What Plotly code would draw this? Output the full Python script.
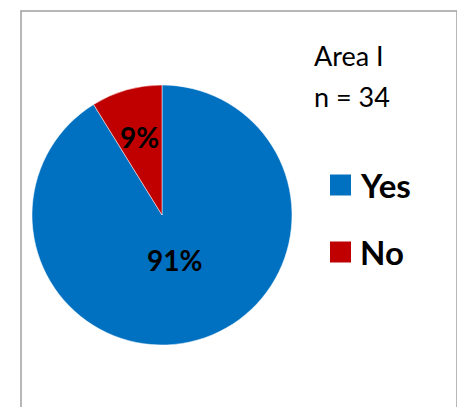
import math
import plotly.graph_objects as go

labels = ["Yes", "No"]
values = [31, 3]
colors = ["#0070C0", "#C00000"]
title_lines = ["Area I", "n = 34"]

# style / layout helpers
label_radius = [0.36, 0.62]   # fraction of pie radius where each percent label sits
W, H = 465, 407
OFF = 8  # page body margin compensation
FONT = "Lato, 'Open Sans', sans-serif"


def px(x):
    return (x - OFF) / W


def py(y):
    return (H - (y - OFF)) / H


CX, CY, R = 162, 215, 130

fig = go.Figure()
fig.add_trace(go.Pie(
    labels=labels,
    values=values,
    marker=dict(colors=colors, line=dict(color="white", width=0.5)),
    sort=False,
    direction="clockwise",
    rotation=0,
    textinfo="none",
    domain=dict(x=[px(CX - R), px(CX + R)], y=[py(CY + R), py(CY - R)]),
    showlegend=False,
    hoverinfo="label+percent",
))

# percent labels placed along each slice's mid-angle
total = sum(values)
cum = 0
for v, rf in zip(values, label_radius):
    theta = 2 * math.pi * (cum + v / 2) / total
    cum += v
    lx = CX + rf * R * math.sin(theta)
    ly = CY - rf * R * math.cos(theta)
    fig.add_annotation(x=px(lx), y=py(ly), xref="paper", yref="paper",
                       text="<b>%d%%</b>" % round(100 * v / total), showarrow=False,
                       xanchor="center", yanchor="middle",
                       font=dict(family=FONT, size=28, color="black"))

# border
fig.add_shape(type="rect", xref="paper", yref="paper",
              x0=px(21), x1=px(457), y0=-0.1, y1=py(11),
              line=dict(color="#A0A0A0", width=1.5), fillcolor="rgba(0,0,0,0)")

# title text
for i, t in enumerate(title_lines):
    fig.add_annotation(x=px(312), y=py(56 + i * 40), xref="paper", yref="paper",
                       text=t, showarrow=False, xanchor="left", yanchor="middle",
                       font=dict(family=FONT, size=27, color="black"))

# legend
legend_y = [185, 252]
for lab, col, yy in zip(labels, colors, legend_y):
    fig.add_shape(type="rect", xref="paper", yref="paper",
                  x0=px(330), x1=px(351), y0=py(yy + 10.5), y1=py(yy - 10.5),
                  line=dict(width=0), fillcolor=col)
    fig.add_annotation(x=px(358), y=py(yy), xref="paper", yref="paper",
                       text="<b>" + lab + "</b>", showarrow=False, xanchor="left", yanchor="middle",
                       font=dict(family=FONT, size=33, color="black"))

fig.update_layout(
    width=W, height=H,
    margin=dict(l=0, r=0, t=0, b=0),
    paper_bgcolor="white",
    plot_bgcolor="white",
    showlegend=False,
)

fig.write_html("out.html")
